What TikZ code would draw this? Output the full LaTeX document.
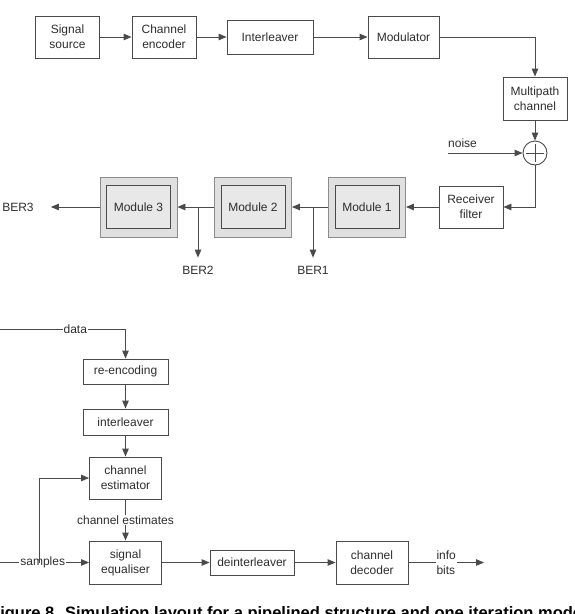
\documentclass[tikz,border=0pt]{standalone}
\usepackage{fontspec}
\setmainfont{Liberation Sans}
\usepackage{tikz}
\usetikzlibrary{arrows.meta}
\definecolor{linegray}{HTML}{4A4A4A}
\definecolor{textgray}{HTML}{2E2E2E}
\tikzset{
  blockbox/.style={draw=linegray, fill=white, line width=0.9pt, align=center, inner sep=0pt, minimum width=64pt, minimum height=42pt, text=textgray, font=\fontsize{12}{15}\selectfont},
  moduleouter/.style={draw=black!45, fill=black!12, line width=0.9pt, minimum width=77pt, minimum height=60pt},
  moduleinner/.style={blockbox, fill=black!9, minimum width=64pt, minimum height=43pt},
  sumnode/.style={circle, draw=linegray, fill=white, line width=0.9pt, minimum size=24pt, inner sep=0pt},
  lbl/.style={inner sep=1pt, text=textgray, font=\fontsize{12}{15}\selectfont},
  flowarrow/.style={-{Triangle[length=8pt,width=6.5pt]}, line width=0.9pt, draw=linegray},
  flowline/.style={line width=0.9pt, draw=linegray}
}
\begin{document}
\begin{tikzpicture}[x=1pt, y=-1pt]
    \useasboundingbox (0,0) rectangle (574,614);
    % transmitter chain
    \node[blockbox] (source) at (67.5,37) {Signal\\source};
    \node[blockbox] (encoder) at (164,37) {Channel\\encoder};
    \node[blockbox, minimum width=86pt, minimum height=34pt] (interleaver) at (270,37) {Interleaver};
    \node[blockbox, minimum width=71pt] (modulator) at (403.5,37) {Modulator};
    \node[blockbox, minimum height=43pt] (multipath) at (535,98.5) {Multipath\\channel};
    \node[sumnode] (sum) at (535,153) {};
    \draw[flowline] ([xshift=-9pt]sum.center) -- ([xshift=9pt]sum.center);
    \draw[flowline] ([yshift=-9pt]sum.center) -- ([yshift=9pt]sum.center);
    \coordinate (noisein) at (448,153);
    \node[lbl, anchor=base west, inner sep=0pt] (noiselbl) at (448,147.5) {noise};
    \node[blockbox] (receiver) at (471,207) {Receiver\\filter};
    % pipelined modules
    \node[moduleouter] (mod1box) at (367,207) {};
    \node[moduleinner] (mod1) at (mod1box) {Module 1};
    \node[moduleouter] (mod2box) at (253,207) {};
    \node[moduleinner] (mod2) at (mod2box) {Module 2};
    \node[moduleouter] (mod3box) at (138.5,207) {};
    \node[moduleinner] (mod3) at (mod3box) {Module 3};
    \node[lbl] (ber3) at (18,207) {BER3};
    \node[lbl] (ber2) at (198,270) {BER2};
    \node[lbl] (ber1) at (313,270) {BER1};
    \draw[flowarrow] (source) -- (encoder);
    \draw[flowarrow] (encoder) -- (interleaver);
    \draw[flowarrow] (interleaver) -- (modulator);
    \draw[flowarrow] (modulator.east) -| (multipath.north);
    \draw[flowarrow] (multipath) -- (sum);
    \draw[flowarrow] (noisein) -- (sum.west);
    \draw[flowarrow] (sum.south) |- (receiver.east);
    \draw[flowarrow] (receiver) -- (mod1box);
    \draw[flowarrow] (mod1box) -- (mod2box);
    \draw[flowarrow] (mod2box) -- (mod3box);
    \draw[flowarrow, shorten >=16pt] (mod3box.west) -- (ber3.east);
    \draw[flowarrow, shorten >=7pt] (ber2 |- mod2box.west) -- (ber2.north);
    \draw[flowarrow, shorten >=7pt] (ber1 |- mod1box.west) -- (ber1.north);
    % one iteration module
    \node[blockbox, minimum width=85pt, minimum height=25pt] (reencoding) at (125.5,371.5) {re-encoding};
    \node[blockbox, minimum width=85pt, minimum height=26pt] (interl) at (125.5,422) {interleaver};
    \node[blockbox, minimum width=72pt] (estimator) at (125.5,478) {channel\\estimator};
    \node[blockbox, minimum width=72pt, minimum height=43pt] (equaliser) at (125.5,562.5) {signal\\equaliser};
    \node[blockbox, minimum width=84pt, minimum height=25pt] (deinterl) at (252,562.5) {deinterleaver};
    \node[blockbox, minimum width=72pt, minimum height=43pt] (decoder) at (372,562.5) {channel\\decoder};
    \coordinate (datain) at (0,329);
    \coordinate (samplesin) at (0,562.5);
    \coordinate (samplestap) at (39.5,562.5);
    \coordinate (infoout) at (484,562.5);
    \draw[flowarrow] (datain) -| (reencoding.north) node[lbl, fill=white, pos=0.3] (datalbl) {data};
    \draw[flowarrow] (reencoding) -- (interl);
    \draw[flowarrow] (interl) -- (estimator);
    \draw[flowarrow] (estimator) -- (equaliser) node[lbl, fill=white, midway] (estlbl) {channel estimates};
    \draw[flowarrow] (samplesin) -- (equaliser.west) node[lbl, fill=white, pos=0.48] (sampleslbl) {samples};
    \draw[flowarrow] (samplestap) |- (estimator.west);
    \draw[flowarrow] (equaliser) -- (deinterl);
    \draw[flowarrow] (deinterl) -- (decoder);
    \draw[flowarrow] (decoder.east) -- (infoout) node[lbl, fill=white, midway, align=left] (infolbl) {info\\bits};
    % caption, cut by the page edge
    \node[anchor=base west, inner sep=0pt, text=black, font=\bfseries\fontsize{16.5}{19}\selectfont] (caption) at (-10,618.8) {Figure 8. Simulation layout for a pipelined structure and one iteration mode};
  \end{tikzpicture}
\end{document}
